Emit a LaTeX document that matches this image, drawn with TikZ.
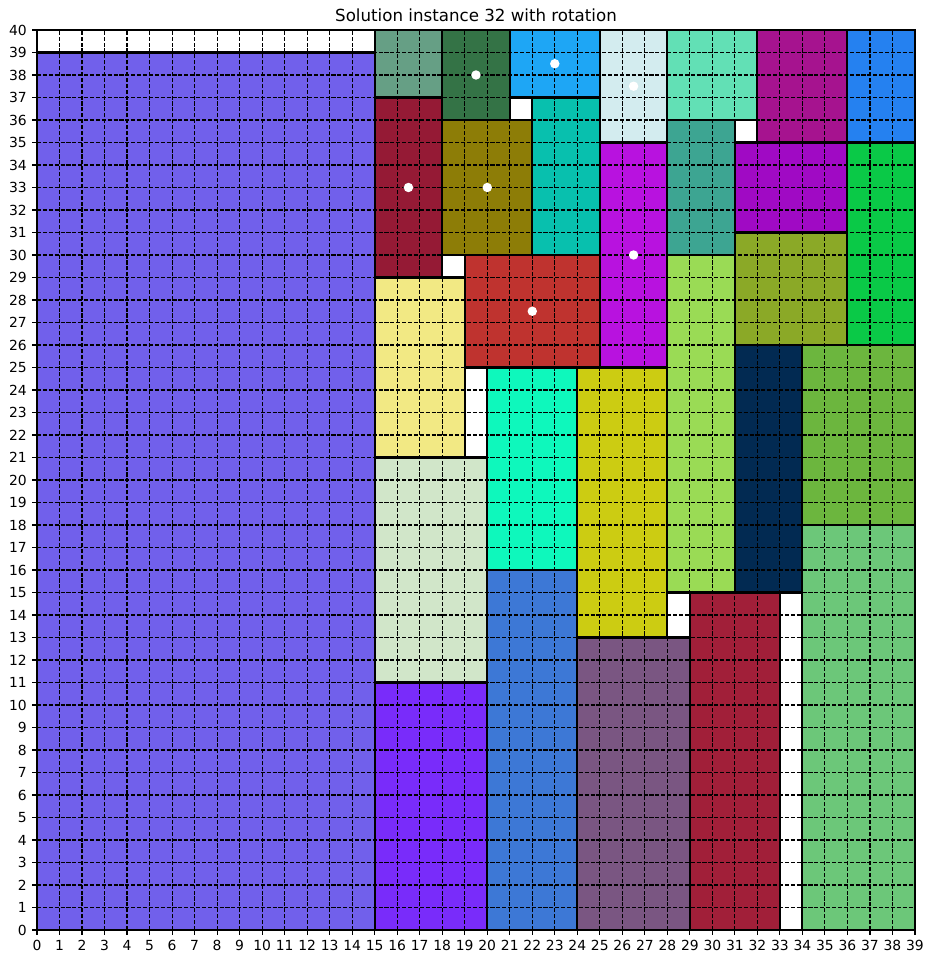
\documentclass[tikz,border=0pt]{standalone}
\usepackage{fontspec}
\setmainfont{DejaVu Sans}
\usepackage{xcolor}
\usepackage{tikz}
\definecolor{slateviolet}{HTML}{7160EB}
\definecolor{sage}{HTML}{669F85}
\definecolor{forest}{HTML}{347346}
\definecolor{skyblue}{HTML}{1EA6F5}
\definecolor{icecyan}{HTML}{D3ECEF}
\definecolor{mint}{HTML}{62E0B5}
\definecolor{plum}{HTML}{A6138F}
\definecolor{azure}{HTML}{2581F0}
\definecolor{wine}{HTML}{951A35}
\definecolor{olive}{HTML}{8D7D07}
\definecolor{teal}{HTML}{08C0AE}
\definecolor{orchid}{HTML}{B812DF}
\definecolor{seagreen}{HTML}{3DA592}
\definecolor{violetpurple}{HTML}{A00AC4}
\definecolor{emerald}{HTML}{0AC947}
\definecolor{brick}{HTML}{BF332F}
\definecolor{sand}{HTML}{F2E984}
\definecolor{moss}{HTML}{8BA927}
\definecolor{lime}{HTML}{9ADB55}
\definecolor{navy}{HTML}{022A52}
\definecolor{grass}{HTML}{6CB63E}
\definecolor{aqua}{HTML}{0EF8BC}
\definecolor{mustard}{HTML}{CCCC12}
\definecolor{paleleaf}{HTML}{D1E6C9}
\definecolor{cornflower}{HTML}{3D78D6}
\definecolor{electric}{HTML}{792CFA}
\definecolor{mauve}{HTML}{7A5682}
\definecolor{crimson}{HTML}{A11F39}
\definecolor{fern}{HTML}{6CC779}

\begin{document}
\begin{tikzpicture}[
  x=16.209pt, y=16.2pt,
  font=\fontsize{10}{12}\selectfont,
  item/.style={draw=black, line width=1.5pt},
  gridline/.style={draw=black, line width=0.8pt, dash pattern=on 2.96pt off 1.28pt},
  spine/.style={draw=black, line width=0.8pt},
  rotmark/.style={fill=white},
  ticklabel/.style={inner sep=0pt}
]
\useasboundingbox (-26.64pt,-24.48pt) rectangle (645.84pt,669.6pt);
% packed items
\draw[item, fill=slateviolet] (0,0) rectangle (15,39);
\draw[item, fill=sage] (15,37) rectangle (18,40);
\draw[item, fill=forest] (18,36) rectangle (21,40);
\draw[item, fill=skyblue] (21,37) rectangle (25,40);
\draw[item, fill=icecyan] (25,35) rectangle (28,40);
\draw[item, fill=mint] (28,36) rectangle (32,40);
\draw[item, fill=plum] (32,35) rectangle (36,40);
\draw[item, fill=azure] (36,35) rectangle (39,40);
\draw[item, fill=wine] (15,29) rectangle (18,37);
\draw[item, fill=olive] (18,30) rectangle (22,36);
\draw[item, fill=teal] (22,30) rectangle (25,37);
\draw[item, fill=orchid] (25,25) rectangle (28,35);
\draw[item, fill=seagreen] (28,30) rectangle (31,36);
\draw[item, fill=violetpurple] (31,31) rectangle (36,35);
\draw[item, fill=emerald] (36,26) rectangle (39,35);
\draw[item, fill=brick] (19,25) rectangle (25,30);
\draw[item, fill=sand] (15,21) rectangle (19,29);
\draw[item, fill=moss] (31,26) rectangle (36,31);
\draw[item, fill=lime] (28,15) rectangle (31,30);
\draw[item, fill=navy] (31,15) rectangle (34,26);
\draw[item, fill=grass] (34,18) rectangle (39,26);
\draw[item, fill=aqua] (20,16) rectangle (24,25);
\draw[item, fill=mustard] (24,13) rectangle (28,25);
\draw[item, fill=paleleaf] (15,11) rectangle (20,21);
\draw[item, fill=cornflower] (20,0) rectangle (24,16);
\draw[item, fill=electric] (15,0) rectangle (20,11);
\draw[item, fill=mauve] (24,0) rectangle (29,13);
\draw[item, fill=crimson] (29,0) rectangle (33,15);
\draw[item, fill=fern] (34,0) rectangle (39,18);
% grid
\foreach \i in {1,...,38}
  \draw[gridline] (\i,0) -- (\i,40);
\foreach \j in {1,...,39}
  \draw[gridline] (0,\j) -- (39,\j);
% rotated items
\fill[rotmark] (19.5,38) circle (3.4pt);
\fill[rotmark] (23,38.5) circle (3.4pt);
\fill[rotmark] (26.5,37.5) circle (3.4pt);
\fill[rotmark] (16.5,33) circle (3.4pt);
\fill[rotmark] (20,33) circle (3.4pt);
\fill[rotmark] (26.5,30) circle (3.4pt);
\fill[rotmark] (22,27.5) circle (3.4pt);
% axes
\draw[spine] (0,0) rectangle (39,40);
\foreach \i in {0,...,39}
  \draw[spine] (\i,0) -- ++(0,-3.5pt) node[ticklabel, anchor=north, yshift=-3.5pt] (xl\i) {\i};
\foreach \j in {0,...,40}
  \draw[spine] (0,\j) -- ++(-3.5pt,0) node[ticklabel, anchor=east, xshift=-3.5pt] (yl\j) {\j};
\node[ticklabel, anchor=south, font=\fontsize{12}{14}\selectfont] (title) at ([yshift=6pt]19.5,40) {Solution instance 32 with rotation};
\end{tikzpicture}
\end{document}
